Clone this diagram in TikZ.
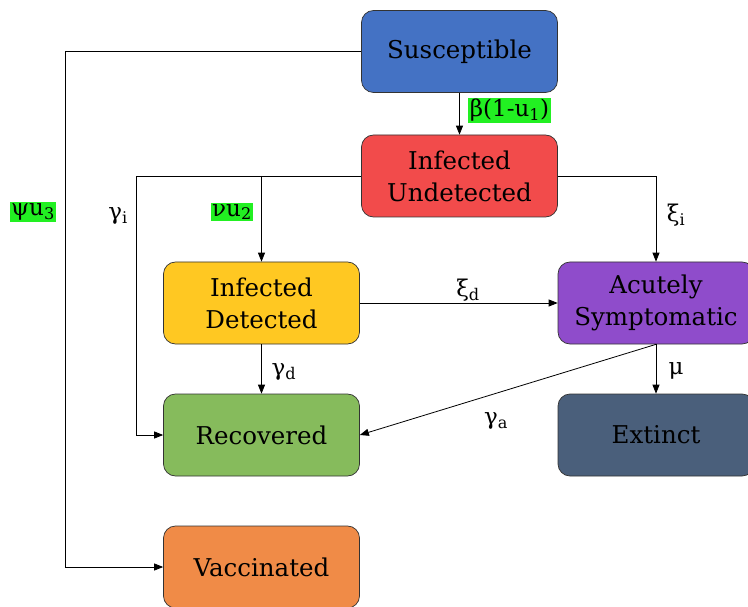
\documentclass[tikz,border=0pt]{standalone}
\usepackage{fontspec}
\setmainfont{DejaVu Serif}
\usetikzlibrary{arrows.meta}
\definecolor{susblue}{HTML}{4472C4}
\definecolor{undred}{HTML}{F24B4B}
\definecolor{detyellow}{HTML}{FFC822}
\definecolor{acupurple}{HTML}{8F4CCB}
\definecolor{recgreen}{HTML}{86BB5C}
\definecolor{extslate}{HTML}{4A5F7B}
\definecolor{vacorange}{HTML}{F08B47}
\definecolor{ctrlgreen}{HTML}{22F022}
\tikzset{
  compartment/.style={draw=black!80, line width=0.7pt, rounded corners=12pt,
    minimum width=196pt, minimum height=82pt, align=center,
    font=\fontsize{24.5}{32}\selectfont},
  flow/.style={-{Triangle[length=9pt,width=7pt]}, line width=0.8pt},
  rate/.style={font=\fontsize{23}{26}\selectfont, inner sep=1.5pt},
  ctrl/.style={rate, fill=ctrlgreen},
}

\begin{document}
\begin{tikzpicture}[x=1pt,y=-1pt]
			\useasboundingbox (0,0) rectangle (748,607);
			%%%%% COMPARTMENTS %%%%%
			
			\node[compartment, fill=susblue] (sus) at (459.5, 51.5) {Susceptible};
			\node[compartment, fill=undred] (und) at (459.5, 176) {Infected\\Undetected};
			\node[compartment, fill=detyellow] (det) at (261.5, 303) {Infected\\Detected};
			\node[compartment, fill=acupurple] (acu) at (656, 303) {Acutely\\Symptomatic};
			\node[compartment, fill=recgreen] (rec) at (261.5, 435) {Recovered};
			\node[compartment, fill=extslate] (ext) at (656, 435) {Extinct};
			\node[compartment, fill=vacorange] (vac) at (261.5, 567) {Vaccinated};
			
			%%%%% FLOWS %%%%%
			
			\draw[flow] (sus) -- (und);
			\draw[flow] (sus.west) -- ++(-296, 0) |- (vac.west);
			\draw[flow] (und.west) -- ++(-225, 0) |- (rec.west);
			\draw[flow] (und.west -| det.north) -- (det.north);
			\draw[flow] (und.east) -| (acu.north);
			\draw[flow] (det.east) -- (acu.west);
			\draw[flow] (det) -- (rec);
			\draw[flow] (acu.south) -- (rec.east);
			\draw[flow] (acu) -- (ext);
			
			%%%%% RATES %%%%%
			
			\node[ctrl] (beta) at (509.5, 110.5) {β(1-u\textsubscript{1})};
			\node[ctrl] (psi) at (33, 212) {ψu\textsubscript{3}};
			\node[ctrl] (nu) at (232, 212) {νu\textsubscript{2}};
			\node[rate] (gi) at (118, 216) {γ\textsubscript{i}};
			\node[rate] (xii) at (676, 215) {ξ\textsubscript{i}};
			\node[rate] (xid) at (468, 290) {ξ\textsubscript{d}};
			\node[rate] (gd) at (284, 372) {γ\textsubscript{d}};
			\node[rate] (ga) at (496, 421) {γ\textsubscript{a}};
			\node[rate] (mu) at (676, 371) {μ};
			
			%%%%% END %%%%%
\end{tikzpicture}
\end{document}
